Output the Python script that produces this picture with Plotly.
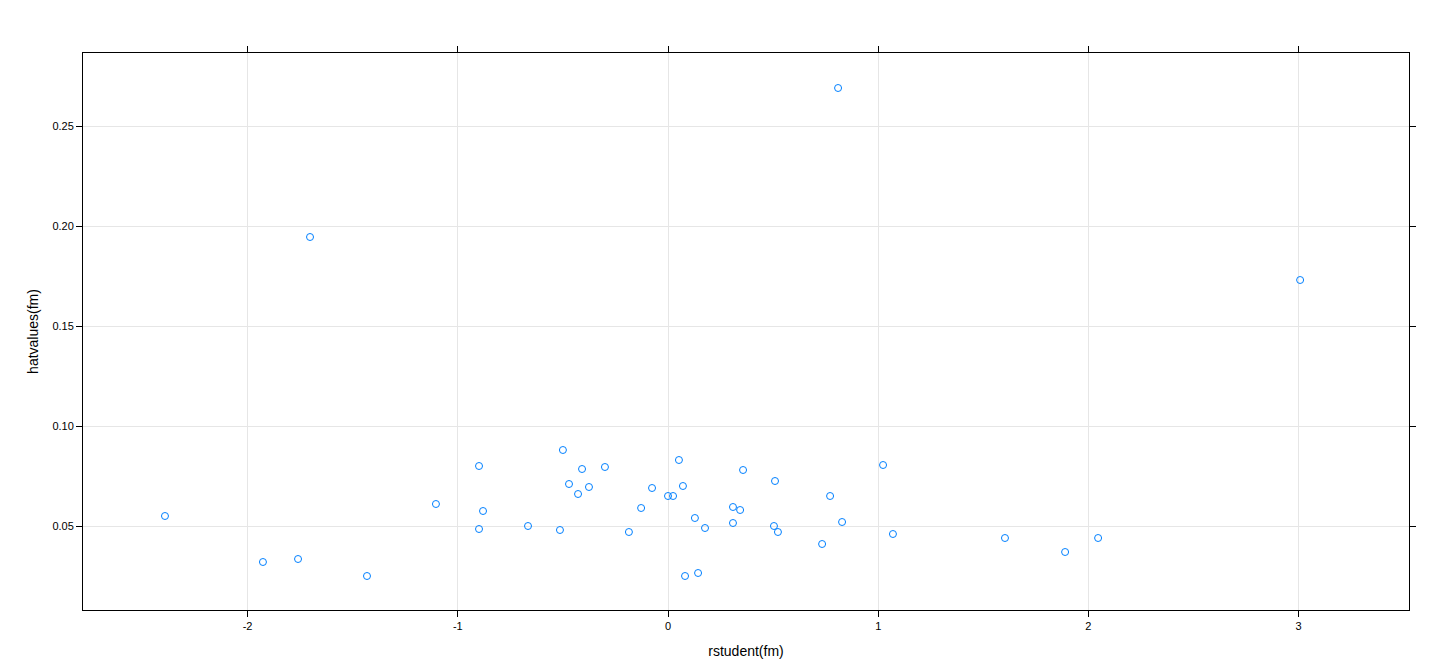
import plotly.graph_objects as go

rstudent = [-2.393, -1.927, -1.760, -1.703, -1.432, -1.104, -0.899, -0.899, -0.880, -0.666,
            -0.514, -0.500, -0.471, -0.428, -0.409, -0.376, -0.300, -0.186, -0.128, -0.076,
            0.000, 0.024, 0.052, 0.071, 0.081, 0.128, 0.143, 0.176, 0.309, 0.309,
            0.343, 0.357, 0.504, 0.509, 0.523, 0.733, 0.771, 0.809, 0.828, 1.023,
            1.070, 1.603, 1.889, 2.046, 3.007]
hatvalues = [0.055, 0.032, 0.0335, 0.1945, 0.025, 0.061, 0.080, 0.0485, 0.0575, 0.050,
             0.048, 0.088, 0.071, 0.066, 0.0785, 0.0695, 0.0795, 0.047, 0.059, 0.069,
             0.065, 0.065, 0.083, 0.070, 0.025, 0.054, 0.0265, 0.049, 0.0595, 0.0515,
             0.058, 0.078, 0.050, 0.0725, 0.047, 0.041, 0.065, 0.269, 0.052, 0.0805,
             0.046, 0.044, 0.037, 0.044, 0.173]
xticks = [-2, -1, 0, 1, 2, 3]
yticks = [0.05, 0.10, 0.15, 0.20, 0.25]

fig = go.Figure(go.Scatter(
    x=rstudent, y=hatvalues, mode="markers",
    marker=dict(symbol="circle-open", size=7, color="#0080ff", line=dict(width=1))))

axis_common = dict(showline=True, linecolor="black", linewidth=1, mirror="ticks",
                   ticks="outside", ticklen=6, tickcolor="black",
                   showgrid=True, gridcolor="#e6e6e6", zeroline=False,
                   tickfont=dict(size=11, color="black"))
fig.update_xaxes(range=[-2.783, 3.525], tickvals=xticks, ticktext=[str(v) for v in xticks],
                 title=dict(text="rstudent(fm)", font=dict(size=14), standoff=14), **axis_common)
fig.update_yaxes(range=[0.008, 0.2865], tickvals=yticks, ticktext=["%.2f" % v for v in yticks],
                 title=dict(text="hatvalues(fm)", font=dict(size=14), standoff=10), **axis_common)
fig.update_layout(width=1440, height=672, plot_bgcolor="white", paper_bgcolor="white",
                  margin=dict(l=75, r=39, t=45, b=70), showlegend=False,
                  font=dict(family="Liberation Sans, Arial, sans-serif", color="black"))
fig.write_html("out.html")
